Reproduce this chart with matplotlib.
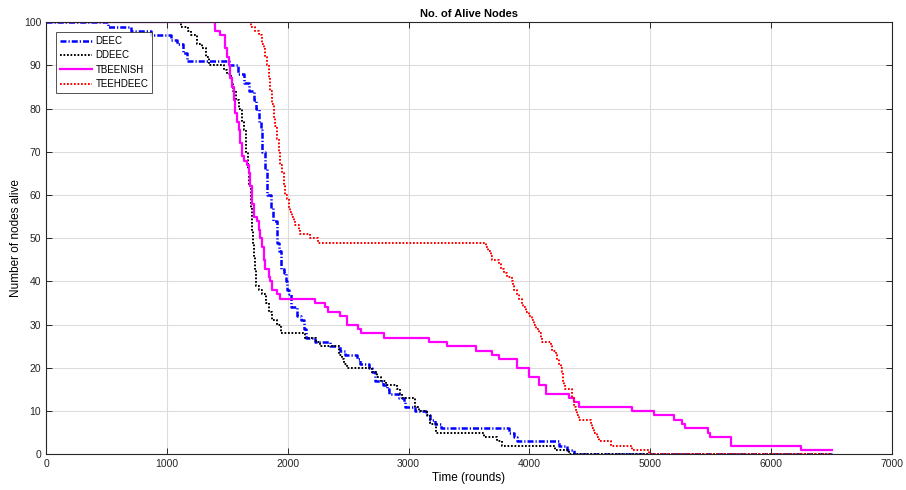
import matplotlib
matplotlib.use("Agg")
import matplotlib.pyplot as plt

plt.rcParams['font.family'] = ['Liberation Sans', 'DejaVu Sans']

# Step changes (round, alive nodes) for each protocol
deec_rounds = [0, 510, 700, 870, 1030, 1080, 1130, 1165, 1515, 1590, 1640, 1680, 1722, 1736, 1763,
               1780, 1791, 1813, 1832, 1860, 1879, 1907, 1929, 1948, 1970, 1983, 1995, 2008, 2025,
               2080, 2107, 2135, 2149, 2229, 2353, 2436, 2477, 2574, 2601, 2670, 2698, 2726, 2790,
               2822, 2836, 2920, 2960, 2974, 3050, 3140, 3180, 3220, 3264, 3830, 3872, 3900, 4245,
               4314, 4369, 6500]
deec_alive = [100, 99, 98, 97, 96, 95, 93, 91, 90, 88, 86, 84, 82, 80, 77,
              75, 70, 66, 60, 57, 54, 49, 47, 43, 42, 40, 38, 37, 34,
              32, 31, 29, 27, 26, 25, 24, 23, 22, 21, 20, 19, 17, 16,
              15, 14, 13, 12, 11, 10, 9, 8, 7, 6, 5, 4, 3, 2,
              1, 0, 0]

ddeec_rounds = [0, 1116, 1171, 1200, 1253, 1290, 1322, 1350, 1474, 1501, 1529, 1540, 1551, 1570,
                1598, 1620, 1639, 1653, 1672, 1680, 1694, 1702, 1713, 1722, 1730, 1735, 1763, 1791,
                1818, 1845, 1873, 1915, 1942, 2146, 2230, 2270, 2420, 2453, 2466, 2491, 2700, 2740,
                2770, 2809, 2906, 2925, 2947, 3057, 3082, 3154, 3181, 3223, 3620, 3733, 3774, 4210,
                4327, 6500]
ddeec_alive = [100, 99, 98, 97, 95, 94, 92, 90, 89, 88, 87, 86, 84, 82,
               80, 77, 75, 70, 66, 62, 57, 52, 49, 46, 43, 39, 38, 37,
               35, 33, 31, 30, 28, 27, 26, 25, 23, 22, 21, 20, 19, 18,
               17, 16, 15, 14, 13, 11, 10, 9, 7, 5, 4, 3, 2, 1,
               0, 0]

tbeenish_rounds = [0, 1400, 1440, 1480, 1497, 1511, 1525, 1540, 1552, 1566, 1580, 1595, 1607, 1621,
                   1635, 1663, 1676, 1690, 1704, 1718, 1746, 1759, 1773, 1787, 1800, 1814, 1842,
                   1856, 1870, 1911, 1939, 2229, 2310, 2330, 2436, 2491, 2580, 2602, 2795, 3168,
                   3320, 3554, 3693, 3748, 3900, 3996, 4079, 4134, 4327, 4369, 4410, 4852, 5031,
                   5197, 5260, 5290, 5480, 5495, 5667, 6247, 6500]
tbeenish_alive = [100, 98, 97, 94, 92, 90, 87, 85, 82, 79, 77, 75, 72, 69,
                  68, 67, 65, 62, 58, 55, 54, 52, 50, 48, 45, 43, 41,
                  40, 38, 37, 36, 35, 34, 33, 32, 30, 29, 28, 27, 26,
                  25, 24, 23, 22, 20, 18, 16, 14, 13, 12, 11, 10, 9,
                  8, 7, 6, 5, 4, 2, 1, 1]

teehdeec_rounds = [0, 1700, 1732, 1759, 1787, 1800, 1814, 1828, 1842, 1856, 1870, 1883, 1897, 1911,
                   1925, 1932, 1953, 1966, 1980, 1994, 2008, 2022, 2036, 2049, 2063, 2090, 2104,
                   2187, 2250, 3640, 3660, 3678, 3693, 3748, 3762, 3790, 3817, 3858, 3865, 3872,
                   3900, 3915, 3935, 3950, 3969, 3996, 4024, 4040, 4058, 4079, 4093, 4107, 4175,
                   4189, 4217, 4231, 4245, 4258, 4268, 4275, 4282, 4290, 4355, 4369, 4383, 4395,
                   4410, 4507, 4520, 4535, 4562, 4576, 4673, 4852, 4990, 6500]
teehdeec_alive = [100, 99, 98, 97, 95, 94, 92, 90, 87, 84, 81, 78, 76, 73,
                  70, 67, 65, 62, 60, 59, 57, 56, 55, 54, 53, 52, 51,
                  50, 49, 48, 47, 46, 45, 44, 43, 42, 41, 40, 39, 38,
                  37, 36, 35, 34, 33, 32, 31, 30, 29, 28, 27, 26, 25,
                  24, 23, 22, 21, 20, 19, 17, 16, 15, 13, 11, 10, 9,
                  8, 7, 6, 5, 4, 3, 2, 1, 0, 0]

x_ticks = [0, 1000, 2000, 3000, 4000, 5000, 6000, 7000]
y_ticks = [0, 10, 20, 30, 40, 50, 60, 70, 80, 90, 100]

fig = plt.figure(figsize=(9.06, 4.90), dpi=100)
ax = fig.add_axes([0.0508, 0.0729, 0.9338, 0.8816])

ax.plot(deec_rounds, deec_alive, drawstyle='steps-post', color='#0000ff',
        linestyle=(0, (2.4, 0.8, 0.5, 0.8)), linewidth=1.8, label='DEEC')
ax.plot(ddeec_rounds, ddeec_alive, drawstyle='steps-post', color='black',
        linestyle=(0, (0.9, 0.9)), linewidth=1.4, label='DDEEC')
ax.plot(tbeenish_rounds, tbeenish_alive, drawstyle='steps-post', color='#ff00ff',
        linestyle='-', linewidth=1.6, label='TBEENISH')
ax.plot(teehdeec_rounds, teehdeec_alive, drawstyle='steps-post', color='#ff0000',
        linestyle=(0, (0.9, 0.9)), linewidth=1.4, label='TEEHDEEC')

ax.set_xlim(0, 7000)
ax.set_ylim(0, 100)
ax.set_xticks(x_ticks)
ax.set_yticks(y_ticks)
ax.tick_params(direction='in', top=True, right=True, labelsize=7.5, length=4,
               width=0.7, colors='#262626')
ax.grid(True, color='#dcdcdc', linewidth=0.8)
ax.set_axisbelow(True)
for s in ax.spines.values():
    s.set_linewidth(0.8)
    s.set_color('#262626')

ax.set_title('No. of Alive Nodes', fontsize=8, fontweight='bold', pad=4)
ax.set_xlabel('Time (rounds)', fontsize=8.5, labelpad=2)
ax.set_ylabel('Number of nodes alive', fontsize=8.5, labelpad=1)

leg = ax.legend(loc='upper left', bbox_to_anchor=(0.0115, 0.977), borderaxespad=0,
                fontsize=7, frameon=True, fancybox=False, edgecolor='#262626',
                handlelength=3.3, handletextpad=0.4, labelspacing=0.45,
                borderpad=0.4)
leg.get_frame().set_linewidth(0.7)

fig.savefig('out.png', dpi=100)
